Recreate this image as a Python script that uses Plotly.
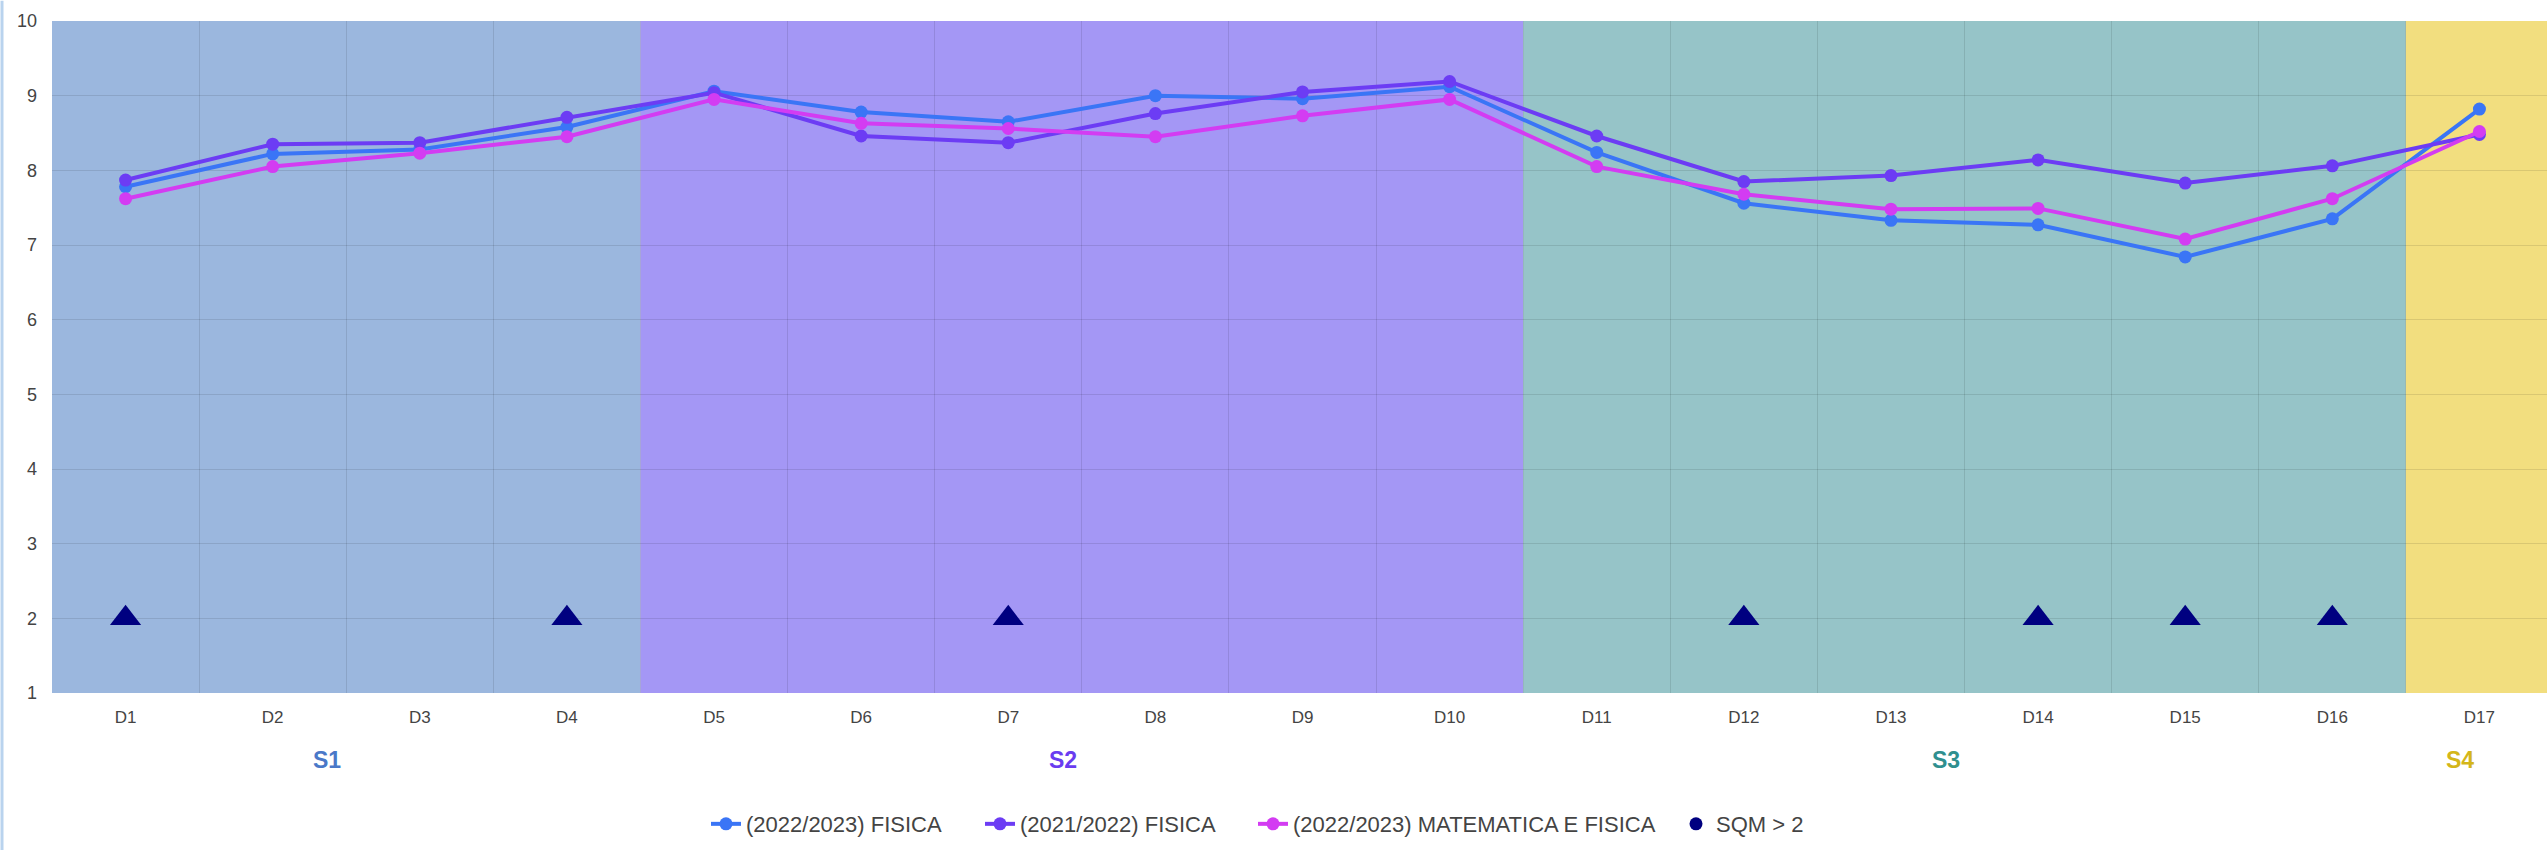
import plotly.graph_objects as go

categories = ["D1", "D2", "D3", "D4", "D5", "D6", "D7", "D8", "D9", "D10",
              "D11", "D12", "D13", "D14", "D15", "D16", "D17"]

fisica_2223 = [7.78, 8.22, 8.28, 8.58, 9.06, 8.78, 8.65, 9.00, 8.96, 9.12,
               8.24, 7.56, 7.33, 7.27, 6.84, 7.35, 8.82]
fisica_2122 = [7.87, 8.35, 8.37, 8.71, 9.04, 8.46, 8.37, 8.76, 9.05, 9.19,
               8.46, 7.85, 7.93, 8.14, 7.83, 8.06, 8.48]
matfis_2223 = [7.62, 8.05, 8.23, 8.45, 8.95, 8.63, 8.56, 8.45, 8.73, 8.95,
               8.05, 7.68, 7.48, 7.49, 7.08, 7.62, 8.52]

sqm_categories = ["D1", "D4", "D7", "D12", "D14", "D15", "D16"]
sqm_value = 2

sections = ["S1", "S2", "S3", "S4"]
section_sizes = [4, 6, 6, 1]
section_bg = ["#9bb7de", "#a497f5", "#96c4c8", "#f2de7f"]
section_fg = ["#4a78c8", "#6a3cf0", "#2f8f8f", "#d4b61a"]

series = [
    ("(2022/2023) FISICA", fisica_2223, "#3a75f6"),
    ("(2021/2022) FISICA", fisica_2122, "#6c3cf4"),
    ("(2022/2023) MATEMATICA E FISICA", matfis_2223, "#d33cf2"),
]

FONT = "Liberation Sans, Arial, sans-serif"
# the chart is slightly wider than the window; the page clips its right edge
W, H = 2555, 850
ML, MR, MT, MB = 52, 2, 21, 157
PW = W - ML - MR
# pixel x of each legend entry's symbol centre (layout only)
legend_px = [726, 1000, 1273, 1696]
legend_names = ["legend", "legend2", "legend3", "legend4"]

fig = go.Figure()

for (name, vals, col), lg in zip(series, legend_names):
    fig.add_trace(go.Scatter(
        x=categories, y=vals, name=name, mode="lines+markers",
        line=dict(color=col, width=4),
        marker=dict(color=col, size=13), legend=lg,
    ))

fig.add_trace(go.Scatter(
    x=sqm_categories, y=[sqm_value] * len(sqm_categories), mode="markers",
    marker=dict(symbol="triangle-up", size=27, color="#000080"),
    showlegend=False, legendgroup="sqm", name="SQM > 2",
))
fig.add_trace(go.Scatter(
    x=[None], y=[None], mode="markers", name="SQM > 2", legendgroup="sqm",
    marker=dict(symbol="circle", size=13, color="#000080"),
    legend=legend_names[3],
))

shapes = []
annotations = []
start = 0
for s, n, bg, fg in zip(sections, section_sizes, section_bg, section_fg):
    shapes.append(dict(type="rect", xref="x", yref="paper",
                       x0=start - 0.5, x1=start + n - 0.5, y0=0, y1=1,
                       fillcolor=bg, line=dict(width=0), layer="below"))
    annotations.append(dict(xref="x", yref="paper", x=start + (n - 1) / 2,
                            y=-0.1, yanchor="middle", xshift=-19,
                            text="<b>%s</b>" % s, showarrow=False,
                            font=dict(size=23, color=fg, family=FONT)))
    start += n

# thin page frame on the left
shapes.append(dict(type="line", xref="paper", yref="paper",
                   x0=-50 / PW, x1=-50 / PW, y0=-0.3, y1=1.03,
                   line=dict(color="#b9d3ee", width=3)))

layout_legends = {}
for lg, px in zip(legend_names, legend_px):
    layout_legends[lg] = dict(
        orientation="h", xref="paper", x=(px - 20 - ML) / PW, xanchor="left",
        yref="paper", y=-0.195, yanchor="middle",
        font=dict(size=22, color="#444"),
        itemwidth=30, bgcolor="rgba(0,0,0,0)", borderwidth=0)

fig.update_layout(
    width=W, height=H,
    margin=dict(l=ML, r=MR, t=MT, b=MB, autoexpand=False),
    paper_bgcolor="white", plot_bgcolor="white",
    font=dict(family=FONT, size=17, color="#444"),
    shapes=shapes, annotations=annotations,
    showlegend=True,
    xaxis=dict(type="category", categoryorder="array", categoryarray=categories,
               range=[-0.5, len(categories) - 0.5],
               tickson="boundaries", showgrid=True,
               gridcolor="rgba(0,0,0,0.1)", gridwidth=1,
               ticks="", ticklabelstandoff=12, showline=False, zeroline=False,
               tickfont=dict(size=17), automargin=False),
    yaxis=dict(range=[1, 10], dtick=1, tick0=1, showgrid=True,
               gridcolor="rgba(0,0,0,0.1)", gridwidth=1, zeroline=False,
               ticks="", ticklabelstandoff=14, showline=False,
               tickfont=dict(size=18), automargin=False),
    **layout_legends,
)

fig.write_html("out.html",
               config={"displayModeBar": False},
               post_script="document.body.style.margin='0';"
                           "document.body.style.overflow='hidden';")
